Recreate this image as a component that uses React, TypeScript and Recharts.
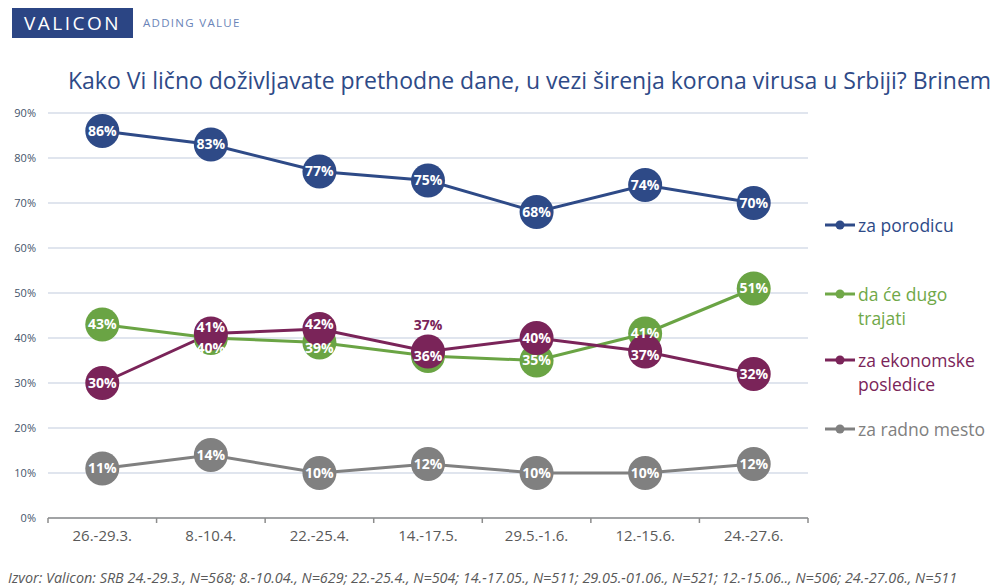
import { LineChart, Line, XAxis, YAxis, CartesianGrid, LabelList } from "recharts"

const periods = ["26.-29.3.", "8.-10.4.", "22.-25.4.", "14.-17.5.", "29.5.-1.6.", "12.-15.6.", "24.-27.6."]
const porodica = [86, 83, 77, 75, 68, 74, 70]
const dugoTrajati = [43, 40, 39, 36, 35, 41, 51]
const ekonomske = [30, 41, 42, 37, 40, 37, 32]
const radnoMesto = [11, 14, 10, 12, 10, 10, 12]
const yTicks = [0, 10, 20, 30, 40, 50, 60, 70, 80, 90]

const BLUE = "#2E4A87"
const GREEN = "#6AA444"
const PURPLE = "#7A2459"
const GRAY = "#808080"
const FONT = "'Open Sans', sans-serif"

const W = 991
const H = 588
const M = { top: 113, right: 183, bottom: 40, left: 0 }
const Y_W = 48
const step = (W - M.left - M.right - Y_W) / periods.length

const data = periods.map((p, i) => ({
  period: p,
  porodica: porodica[i],
  dugo: dugoTrajati[i],
  ekonomske: ekonomske[i],
  radno: radnoMesto[i],
}))

// drawing order: last one ends up on top
const series = [
  { key: "radno", color: GRAY },
  { key: "porodica", color: BLUE },
  { key: "dugo", color: GREEN },
  { key: "ekonomske", color: PURPLE },
]

const legendItems = [
  { lines: ["za porodicu"], color: BLUE, top: 0 },
  { lines: ["da će dugo", "trajati"], color: "#70A848", top: 69 },
  { lines: ["za ekonomske", "posledice"], color: PURPLE, top: 135 },
  { lines: ["za radno mesto"], color: GRAY, top: 204 },
]

function LegendBox() {
  return (
    <div style={{ position: "absolute", left: 823, top: 213, width: 168, fontFamily: FONT }}>
      {legendItems.map((it) => (
        <div key={it.lines[0]} style={{ position: "absolute", top: it.top, left: 0, width: 168 }}>
          <svg width={34} height={24} style={{ position: "absolute", left: 0, top: 0 }}>
            <line x1={2} y1={12} x2={32} y2={12} stroke={it.color} strokeWidth={3} />
            <circle cx={17} cy={12} r={4.5} fill={it.color} />
          </svg>
          <div style={{ marginLeft: 35, color: it.color, fontSize: 17.5, lineHeight: "24px", whiteSpace: "nowrap" }}>
            {it.lines.map((l) => (
              <div key={l}>{l}</div>
            ))}
          </div>
        </div>
      ))}
    </div>
  )
}

// nudges for labels that crowd each other (series -> index -> dy)
const labelNudge: Record<string, Record<number, number>> = {
  ekonomske: { 1: -6, 2: -5, 3: -26, 5: 4 },
  dugo: { 1: 10, 2: 6 },
}

function makeLabel(key: string, color: string) {
  return (props: any) => {
    const { x, y, value, index } = props
    const dy = (labelNudge[key] || {})[index] || 0
    const above = dy < -15
    return (
      <text
        x={x}
        y={y + dy + 1}
        textAnchor="middle"
        dominantBaseline="middle"
        fill={above ? color : "#fff"}
        fontSize={14}
        fontWeight={700}
        fontFamily={FONT}
      >
        {Math.round(value)}%
      </text>
    )
  }
}

function CategoryTick(props: any) {
  const { x, y, payload, index } = props
  const half = step / 2
  return (
    <g>
      <line x1={x - half} y1={y} x2={x - half} y2={y + 5} stroke="#8C8C8C" strokeWidth={1.5} />
      {index === periods.length - 1 && (
        <line x1={x + half} y1={y} x2={x + half} y2={y + 5} stroke="#8C8C8C" strokeWidth={1.5} />
      )}
      <text x={x} y={y + 19} textAnchor="middle" dominantBaseline="middle" fill="#595959" fontSize={15} fontFamily={FONT}>
        {payload.value}
      </text>
    </g>
  )
}

export default function App() {
  return (
    <div style={{ position: "absolute", left: 0, top: 0, width: W, height: H, background: "#fff", overflow: "hidden", fontFamily: FONT }}>
      <div style={{ position: "absolute", left: 12, top: 8, width: 121, height: 30, background: "#2B4584", color: "#fff", fontSize: 19, lineHeight: "30px", textAlign: "center", letterSpacing: 2.5 }}>
        VALICON
      </div>
      <div style={{ position: "absolute", left: 143, top: 15, color: "#6A84B8", fontSize: 11.5, letterSpacing: 1.3 }}>
        ADDING VALUE
      </div>
      <div style={{ position: "absolute", left: 68, top: 64, color: "#2E4A87", fontSize: 23, whiteSpace: "nowrap" }}>
        Kako Vi lično doživljavate prethodne dane, u vezi širenja korona virusa u Srbiji? Brinem
      </div>

      <div style={{ position: "absolute", left: 0, top: 0 }}>
        <LineChart width={W} height={H} data={data} margin={M}>
          <CartesianGrid vertical={false} stroke="#D6DCE8" strokeWidth={1.5} />
          <XAxis
            dataKey="period"
            height={30}
            padding={{ left: step / 2, right: step / 2 }}
            axisLine={{ stroke: "#8C8C8C", strokeWidth: 1.5 }}
            tickLine={false}
            tickSize={0}
            tickMargin={0}
            interval={0}
            tick={<CategoryTick />}
          />
          <YAxis
            width={Y_W}
            domain={[0, 90]}
            ticks={yTicks}
            axisLine={false}
            tickLine={false}
            tickSize={0}
            tickMargin={12}
            tickFormatter={(v) => `${v}%`}
            tick={{ fill: "#44546A", fontSize: 11, fontFamily: FONT }}
          />
          {series.map((s) => (
            <Line
              key={s.key}
              type="linear"
              dataKey={s.key}
              stroke={s.color}
              strokeWidth={3}
              dot={{ r: 17, fill: s.color, stroke: "none" }}
              activeDot={false}
              isAnimationActive={false}
            />
          ))}
          {series.map((s) => (
            <Line
              key={s.key + "-lbl"}
              type="linear"
              dataKey={s.key}
              stroke="none"
              dot={false}
              activeDot={false}
              legendType="none"
              isAnimationActive={false}
            >
              <LabelList dataKey={s.key} content={makeLabel(s.key, s.color)} />
            </Line>
          ))}
        </LineChart>
      </div>

      <LegendBox />

      <div style={{ position: "absolute", left: 8, top: 568, color: "#595959", fontSize: 14.4, fontStyle: "italic", whiteSpace: "nowrap" }}>
        Izvor: Valicon: SRB 24.-29.3., N=568; 8.-10.04., N=629; 22.-25.4., N=504; 14.-17.05., N=511; 29.05.-01.06., N=521; 12.-15.06.., N=506; 24.-27.06., N=511
      </div>
    </div>
  )
}
